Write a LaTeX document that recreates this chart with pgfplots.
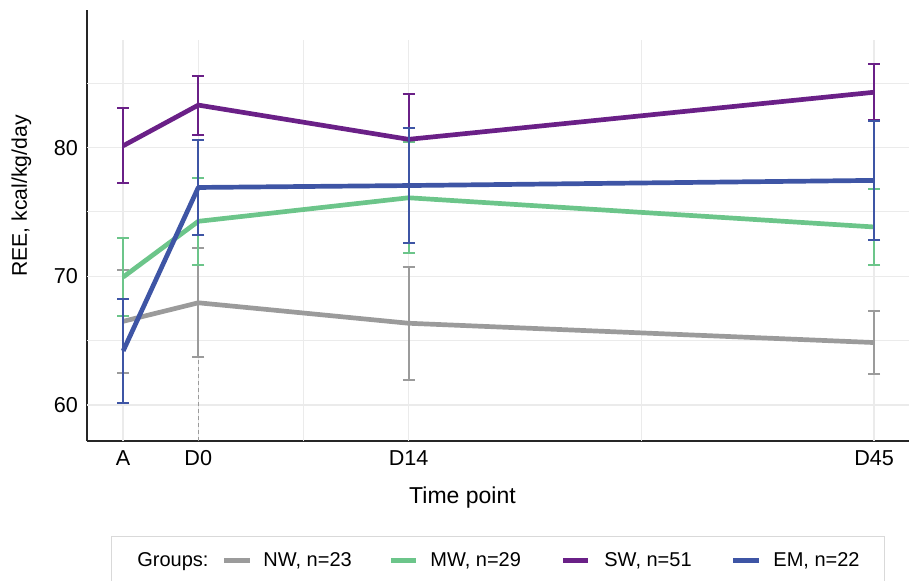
\documentclass[border=0pt]{standalone}
\usepackage{pgfplots}
\pgfplotsset{compat=1.18}
\usepackage{fontspec}
\setmainfont{Liberation Sans}
\definecolor{cNW}{HTML}{9B9B9B}
\definecolor{cMW}{HTML}{6CC58A}
\definecolor{cSW}{HTML}{6A2087}
\definecolor{cEM}{HTML}{3E55A5}
\definecolor{gridc}{HTML}{EBEBEB}
\definecolor{legc}{HTML}{D9D9D9}

\begin{document}
\begin{tikzpicture}
\useasboundingbox (-43.5pt,-69.5pt) rectangle (411pt,220.5pt);
\begin{axis}[
  at={(0pt,0pt)}, anchor=south west,
  scale only axis, width=411pt, height=215.5pt,
  xmin=-7.41, xmax=47.32, ymin=57.2, ymax=90.69,
  axis x line=bottom, axis y line=left,
  axis line style={-, black!85, line width=0.65pt},
  xtick={-5,0,14,45}, xticklabels={A,D0,D14,D45},
  ytick={60,70,80},
  major tick length=0pt, minor tick length=0pt,
  tick label style={font=\fontsize{10.8}{12}\selectfont},
  xticklabel style={anchor=base, yshift=-12pt, inner sep=0pt},
  yticklabel style={anchor=east, xshift=-4.3pt, inner sep=0pt},
  /pgf/number format/assume math mode=true,
  clip=false,
]
\pgfplotsinvokeforeach{60,65,70,75,80,85}{
  \draw[gridc, line width=0.55pt] (axis cs:-7.41,#1) -- (axis cs:47.32,#1);
}
\pgfplotsinvokeforeach{-5,0,7,14,29.5,45}{
  \draw[gridc, line width=0.7pt] (axis cs:#1,57.2) -- (axis cs:#1,88.36);
}
\addplot[cNW, line width=0.5pt, dash pattern=on 2pt off 1.5pt, forget plot] coordinates {(0,57.2) (0,63.7)};

\addplot[cNW, line width=2.35pt, line join=round, mark=none,
  error bars/.cd, y dir=both, y explicit,
  error bar style={line width=1pt, solid},
  error mark options={rotate=90, line width=1pt, mark size=3pt}]
  coordinates {(-5,66.5) +- (0,4.0) (0,67.94) +- (0,4.25) (14,66.35) +- (0,4.4) (45,64.85) +- (0,2.48)};

\addplot[cMW, line width=2.35pt, line join=round, mark=none,
  error bars/.cd, y dir=both, y explicit,
  error bar style={line width=1pt, solid},
  error mark options={rotate=90, line width=1pt, mark size=3pt}]
  coordinates {(-5,69.94) +- (0,3.0) (0,74.27) +- (0,3.4) (14,76.1) +- (0,4.3) (45,73.83) +- (0,2.95)};

\addplot[cSW, line width=2.35pt, line join=round, mark=none,
  error bars/.cd, y dir=both, y explicit,
  error bar style={line width=1pt, solid},
  error mark options={rotate=90, line width=1pt, mark size=3pt}]
  coordinates {(-5,80.14) +- (0,2.9) (0,83.3) +- (0,2.3) (14,80.64) +- (0,3.56) (45,84.3) +- (0,2.17)};

\addplot[cEM, line width=2.35pt, line join=round, mark=none,
  error bars/.cd, y dir=both, y explicit,
  error bar style={line width=1pt, solid},
  error mark options={rotate=90, line width=1pt, mark size=3pt}]
  coordinates {(-5,64.2) +- (0,4.05) (0,76.9) +- (0,3.7) (14,77.05) +- (0,4.5) (45,77.45) +- (0,4.6)};
\end{axis}

% axis titles
\node[rotate=90, anchor=base, inner sep=0pt, font=\fontsize{10.6}{12}\selectfont] at (-30pt,122.5pt) {REE, kcal/kg/day};
\node[anchor=base, inner sep=0pt, font=\fontsize{11.5}{13}\selectfont] at (187.75pt,-31pt) {Time point};

% legend
\draw[legc, line width=0.5pt] (12.25pt,-75pt) -- (12.25pt,-47.5pt) -- (398.5pt,-47.5pt) -- (398.5pt,-75pt);
\begin{scope}[every node/.style={anchor=base west, inner sep=0pt, font=\fontsize{10}{12}\selectfont}]
\node at (25pt,-62.5pt) {Groups:};
\draw[cNW, line width=2.5pt] (68.5pt,-59.5pt) -- (81.5pt,-59.5pt);
\node at (88pt,-62.5pt) {NW, n=23};
\draw[cMW, line width=2.5pt] (152pt,-59.5pt) -- (164.5pt,-59.5pt);
\node at (171.5pt,-62.5pt) {MW, n=29};
\draw[cSW, line width=2.5pt] (238pt,-59.5pt) -- (250.5pt,-59.5pt);
\node at (258.5pt,-62.5pt) {SW, n=51};
\draw[cEM, line width=2.5pt] (323pt,-59.5pt) -- (336pt,-59.5pt);
\node at (343pt,-62.5pt) {EM, n=22};
\end{scope}
\end{tikzpicture}
\end{document}
